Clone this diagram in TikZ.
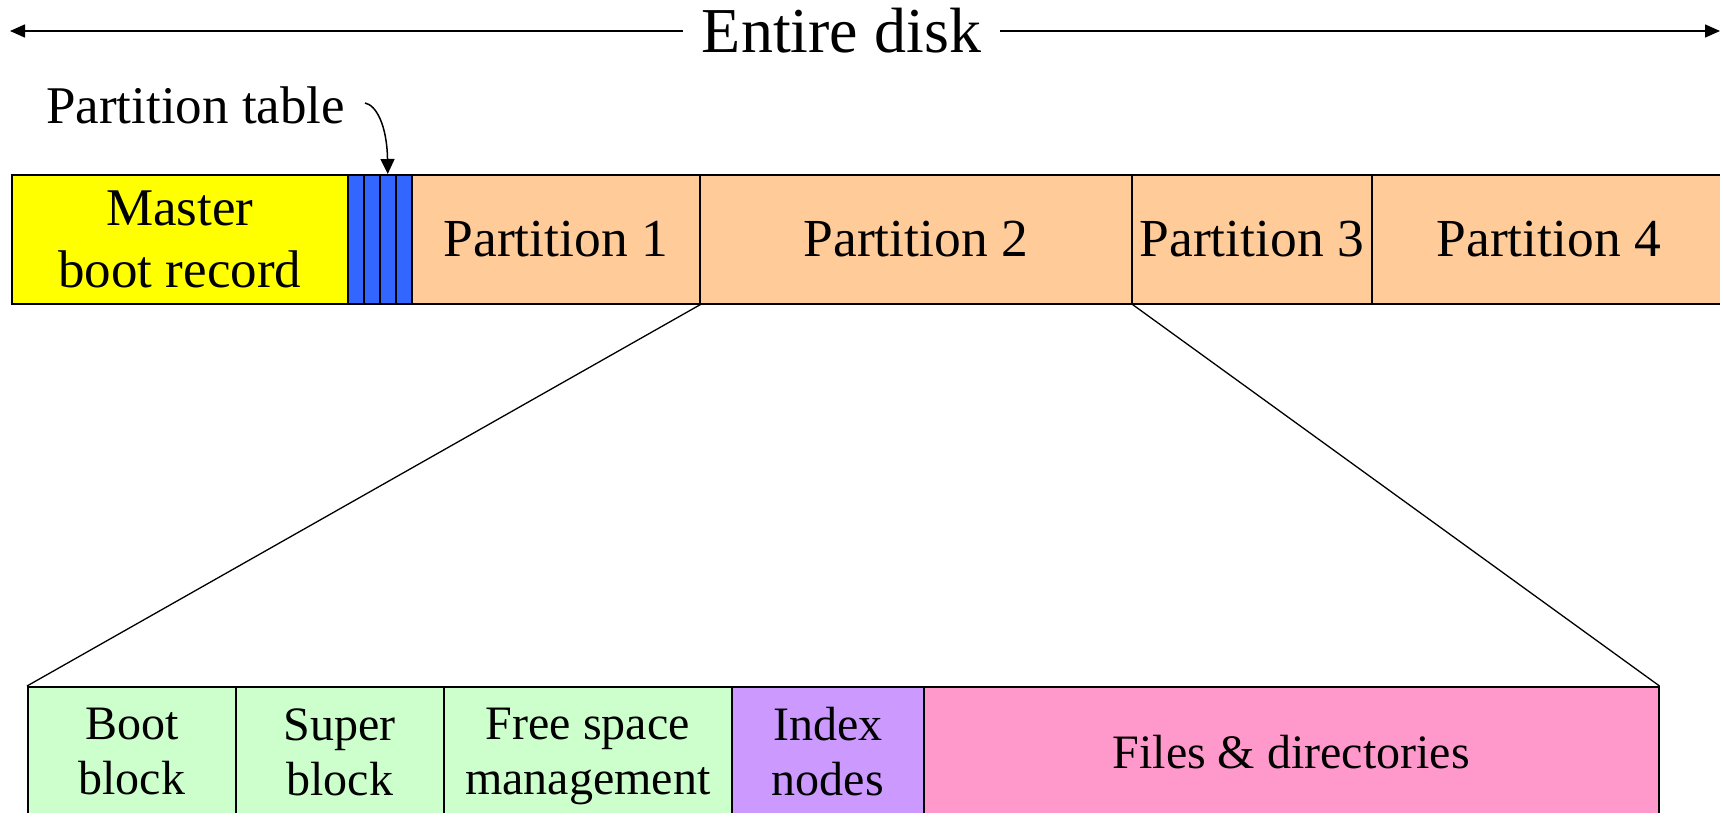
\documentclass[tikz,border=0pt]{standalone}
\usepackage{fontspec}
\setmainfont{Liberation Serif}
\usetikzlibrary{arrows.meta}
\definecolor{mbrcol}{HTML}{FFFF00}
\definecolor{ptabcol}{HTML}{3366FF}
\definecolor{partcol}{HTML}{FFCC99}
\definecolor{fsgreen}{HTML}{CCFFCC}
\definecolor{inodecol}{HTML}{CC99FF}
\definecolor{filescol}{HTML}{FF99CC}
\tikzset{
  cell/.style={draw=black, line width=1.5pt, inner sep=0pt, anchor=north west, align=center},
  topcell/.style={cell, minimum height=129pt, font=\fontsize{53.5}{62}\selectfont},
  botcell/.style={cell, minimum height=130pt, text depth=0pt, font=\fontsize{48}{55}\selectfont},
  thinline/.style={line width=1.3pt},
  arr/.style={line width=1.5pt, -{Triangle[length=15pt,width=13pt]}},
  smallarr/.style={line width=1.5pt, -{Triangle[length=15pt,width=14pt]}}
}
\begin{document}
\begin{tikzpicture}[x=1pt,y=-1pt]
\useasboundingbox (0,0) rectangle (1720,812);
\clip (0,0) rectangle (1720,812);
% top label
\node[inner xsep=19pt, inner ysep=0pt, font=\fontsize{64}{70}\selectfont] (disk) at (841.5,31) {Entire disk};
\coordinate (leftend) at (10,31);
\coordinate (rightend) at (1720,31);
\draw[arr] (disk.west) -- (disk.west -| leftend);
\draw[arr] (disk.east) -- (disk.east -| rightend);
% top row
\node[topcell, fill=mbrcol, minimum width=336pt, font=\fontsize{53}{62}\selectfont] (mbr) at (11,174) {Master\\boot record};
\node[topcell, fill=ptabcol, minimum width=16pt] (s1) at (347,174) {};
\node[topcell, fill=ptabcol, minimum width=16pt] (s2) at (363,174) {};
\node[topcell, fill=ptabcol, minimum width=16pt] (s3) at (379,174) {};
\node[topcell, fill=ptabcol, minimum width=16pt] (s4) at (395,174) {};
\node[topcell, fill=partcol, minimum width=288pt] (p1) at (411,174) {Partition 1};
\node[topcell, fill=partcol, minimum width=432pt] (p2) at (699,174) {Partition 2};
\node[topcell, fill=partcol, minimum width=240pt] (p3) at (1131,174) {Partition 3};
\node[topcell, fill=partcol, minimum width=354pt] (p4) at (1371,174) {Partition 4};
% partition table label
\node[anchor=base west, inner sep=0pt, font=\fontsize{53}{60}\selectfont] (ptab) at (46,123) {Partition table};
\coordinate (ptstart) at (365,103);
\draw[smallarr] (ptstart) .. controls (376,105) and (387,125) .. (s3.north);
% bottom row
\node[botcell, fill=fsgreen, minimum width=208pt] (boot) at (27,686) {Boot\\block};
\node[botcell, fill=fsgreen, minimum width=208pt] (super) at (235,686) {Super\\block};
\node[botcell, fill=fsgreen, minimum width=288pt] (free) at (443,686) {Free space\\management};
\node[botcell, fill=inodecol, minimum width=192pt] (inodes) at (731,686) {Index\\nodes};
\node[botcell, fill=filescol, minimum width=735pt] (files) at (923,686) {Files \& directories};
% zoom lines
\draw[thinline] (p1.south east) -- (boot.north west);
\draw[thinline] (p2.south east) -- (files.north east);
\end{tikzpicture}
\end{document}
